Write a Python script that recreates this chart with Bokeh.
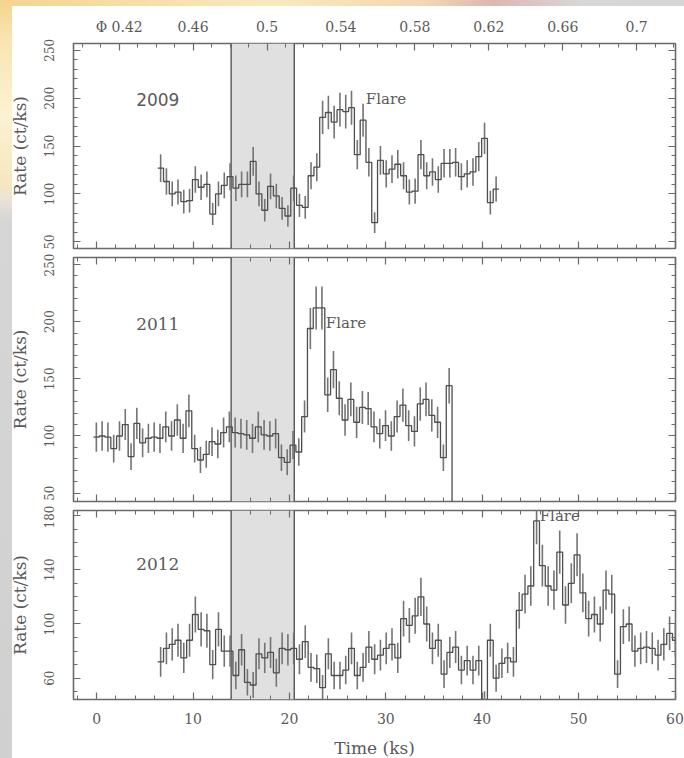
import numpy as np
from bokeh.plotting import figure
from bokeh.layouts import column
from bokeh.models import (LinearAxis, Range1d, FixedTicker, SingleIntervalTicker,
                          BoxAnnotation, Span, Label, ColumnDataSource,
                          CustomJSTickFormatter)
from bokeh.embed import file_html
from bokeh.resources import INLINE

# ---------------------------------------------------------------- data
BIN_KS = 0.6            # light-curve bin width (ks)

years = ["2009", "2011", "2012"]
start_ks = [6.34, -0.33, 6.34]   # left edge of the first bin of each curve

rate_2009 = [127, 113, 100, 102, 92, 93, 115, 107, 110, 79,
             100, 109, 118, 106, 110, 110, 134, 100, 83, 108,
             98, 85, 77, 106, 88, 86, 119, 128, 180, 185,
             175, 188, 186, 190, 141, 177, 133, 70, 135, 121,
             126, 131, 119, 102, 103, 141, 119, 123, 115, 132,
             132, 133, 118, 121, 123, 139, 158, 91, 105]

rate_2011 = [99, 100, 99, 89, 100, 110, 82, 111, 94, 98,
             99, 98, 108, 100, 114, 98, 122, 89, 79, 84,
             95, 93, 103, 108, 103, 102, 101, 98, 108, 101,
             100, 102, 81, 77, 92, 86, 117, 194, 212, 212,
             136, 158, 133, 114, 132, 112, 125, 124, 108, 102,
             109, 100, 117, 127, 109, 104, 128, 132, 118, 112,
             81, 144, 20]

rate_2012 = [72, 82, 85, 88, 75, 88, 107, 96, 95, 70,
             96, 80, 80, 62, 81, 57, 55, 78, 75, 79,
             64, 82, 81, 82, 74, 87, 68, 67, 53, 78,
             62, 62, 66, 82, 62, 68, 83, 74, 77, 82,
             85, 75, 104, 99, 106, 120, 100, 82, 88, 63,
             79, 83, 66, 73, 66, 73, 42, 88, 60, 71,
             75, 72, 110, 122, 128, 176, 143, 128, 125, 153,
             114, 130, 151, 123, 104, 107, 100, 125, 122, 63,
             98, 100, 80, 82, 83, 82, 77, 85, 93, 88, 87]

rates = [rate_2009, rate_2011, rate_2012]

# eclipse / low-state interval shaded in every panel (ks)
band_ks = (13.95, 20.5)

# time axis
time_limits = (-2.4, 60.05)

# rate axes
rate_limits = [(43.1, 257.0), (42.7, 256.1), (44.3, 183.7)]
rate_ticks = [[50, 100, 150, 200, 250], [50, 100, 150, 200, 250], [60, 100, 140, 180]]
rate_minor = [list(range(40, 261, 10)), list(range(40, 261, 10)), list(range(40, 191, 10))]

# orbital phase on the top axis
PHASE_AT_T0 = 0.4078
PHASE_PER_KS = 0.005216
phase_ticks = [0.42, 0.46, 0.5, 0.54, 0.58, 0.62, 0.66, 0.7]
phase_minor = [0.40, 0.41, 0.42, 0.43, 0.44, 0.45, 0.46, 0.47, 0.48, 0.49, 0.50,
               0.51, 0.52, 0.53, 0.54, 0.55, 0.56, 0.57, 0.58, 0.59, 0.60, 0.61,
               0.62, 0.63, 0.64, 0.65, 0.66, 0.67, 0.68, 0.69, 0.70, 0.71, 0.72]

flare_text = "Flare"

# ---------------------------------------------------------------- style
FRAME = "#6a6a6a"
LINE = "#4e4e4e"
ERR = "#747474"
TEXT = "#5a5a5a"
SERIF = "DejaVu Serif"

year_font = ["DejaVu Sans", SERIF, SERIF]
year_pos = [(4.1, 198.1), (4.1, 198.3), (4.1, 144.4)]
flare_pos = [(27.93, 198.6), (23.78, 198.9), (45.96, 179.3)]

frame_heights = [205, 244, 189]
top_borders = [43, 4, 5]
bottom_borders = [5, 4, 59]


def style_axis(ax, labels, size="14px"):
    ax.axis_line_color = None
    ax.major_tick_in = 7
    ax.major_tick_out = 0
    ax.minor_tick_in = 4
    ax.minor_tick_out = 0
    ax.major_tick_line_color = FRAME
    ax.minor_tick_line_color = FRAME
    ax.major_tick_line_width = 1.2
    ax.minor_tick_line_width = 1.0
    if labels:
        ax.major_label_text_font = SERIF
        ax.major_label_text_font_size = size
        ax.major_label_text_color = TEXT
    else:
        # tick marks only: labels are not rendered at all
        ax.major_label_text_color = None
        ax.major_label_text_font_size = "1px"
        ax.major_label_standoff = 0


def make_panel(i):
    last = i == 2
    p = figure(frame_width=602, frame_height=frame_heights[i],
               min_border_left=73, min_border_right=9,
               min_border_top=top_borders[i], min_border_bottom=bottom_borders[i],
               x_range=Range1d(*time_limits), y_range=Range1d(*rate_limits[i]),
               output_backend="svg", toolbar_location=None)
    p.grid.visible = False
    p.background_fill_color = "white"
    p.border_fill_alpha = 0
    p.outline_line_color = FRAME
    p.outline_line_width = 1.6

    yt = FixedTicker(ticks=rate_ticks[i], minor_ticks=rate_minor[i])
    xt = SingleIntervalTicker(interval=10, num_minor_ticks=5)

    # left axis with labels
    left = p.yaxis[0]
    left.ticker = yt
    style_axis(left, True, "12px")
    left.major_label_orientation = "vertical"
    left.major_label_standoff = 19
    left.axis_label = "Rate (ct/ks)"
    left.axis_label_text_font = SERIF
    left.axis_label_text_font_size = "17px"
    left.axis_label_text_font_style = "normal"
    left.axis_label_text_color = TEXT
    left.axis_label_standoff = 12

    right = LinearAxis(ticker=yt)
    style_axis(right, False)
    p.add_layout(right, "right")

    bottom = p.xaxis[0]
    bottom.ticker = xt
    style_axis(bottom, last, "14px")
    if last:
        bottom.major_label_standoff = 13
        bottom.axis_label = "Time (ks)"
        bottom.axis_label_text_font = SERIF
        bottom.axis_label_text_font_size = "17px"
        bottom.axis_label_text_font_style = "normal"
        bottom.axis_label_text_color = TEXT
        bottom.axis_label_standoff = 11

    if i == 0:
        p.extra_x_ranges = {"phase": Range1d(PHASE_AT_T0 + PHASE_PER_KS * time_limits[0],
                                             PHASE_AT_T0 + PHASE_PER_KS * time_limits[1])}
        top = LinearAxis(x_range_name="phase",
                         ticker=FixedTicker(ticks=phase_ticks, minor_ticks=phase_minor),
                         formatter=CustomJSTickFormatter(code="""
                             const s = (Math.round(tick * 100) / 100).toString();
                             return Math.abs(tick - %r) < 1e-6 ? "\\u03a6 " + s : s;
                         """ % phase_ticks[0]))
        style_axis(top, True, "14px")
        top.major_label_standoff = 9
    else:
        top = LinearAxis(ticker=xt)
        style_axis(top, False)
    p.add_layout(top, "above")

    # shaded interval with its edges
    p.add_layout(BoxAnnotation(left=band_ks[0], right=band_ks[1], fill_color="#e0e0e0",
                               fill_alpha=1.0, line_color=None, level="underlay"))
    for edge in band_ks:
        p.add_layout(Span(location=edge, dimension="height", line_color="#4a4a4a",
                          line_width=1.3, level="underlay"))

    # binned light curve: histogram steps plus Poisson error bars
    r = np.asarray(rates[i], dtype=float)
    edges = start_ks[i] + BIN_KS * np.arange(len(r) + 1)
    centers = 0.5 * (edges[:-1] + edges[1:])
    err = np.sqrt(r * BIN_KS) / BIN_KS
    src = ColumnDataSource(dict(t=centers, lo=r - err, hi=r + err))
    p.segment(x0="t", y0="lo", x1="t", y1="hi", source=src,
              line_color=ERR, line_width=1.6)
    p.step(x=edges, y=np.append(r, r[-1]), mode="after",
           line_color=LINE, line_width=1.3)

    yx, yy = year_pos[i]
    p.add_layout(Label(x=yx, y=yy, text=years[i], text_font=year_font[i],
                       text_font_size="17px", text_color=TEXT, text_baseline="middle"))
    fx, fy = flare_pos[i]
    p.add_layout(Label(x=fx, y=fy, text=flare_text, text_font=SERIF,
                       text_font_size="15px", text_color=TEXT, text_baseline="middle"))
    return p


panels = [make_panel(i) for i in range(3)]

page_bg = ("linear-gradient(to bottom, #f3d48f 0%, #f8e4b0 5%, #fcf2d2 15%, #f6e7bf 24%, "
           "#ece4d4 26%, #d6d6d6 29%, #d0d0d0 100%) 0 0 / 12px 100% no-repeat, "
           "linear-gradient(to right, #f3d48f 0%, #f9e9bd 40%, #f2d7b4 62%, #dbb8b2 72%, "
           "#d8d6d6 85%, #d6d6d6 100%) 0 0 / 100% 6px no-repeat, #ffffff")

layout = column(*panels, spacing=0, styles={"background": page_bg})

with open("out.html", "w") as f:
    f.write(file_html(layout, INLINE))
